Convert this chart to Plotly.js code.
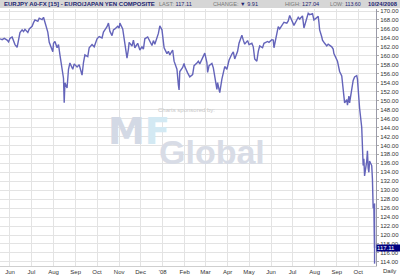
<!DOCTYPE html>
<html><head><meta charset="utf-8">
<script src="https://cdn.plot.ly/plotly-3.0.1.min.js"></script>
<style>html,body{margin:0;padding:0;background:#fff;}#c{width:400px;height:275px;}</style>
</head><body><div id="c"></div>
<script>
const dates = ["2007-05-18","2007-05-21","2007-05-24","2007-05-28","2007-05-30","2007-06-01","2007-06-04","2007-06-06","2007-06-08","2007-06-11","2007-06-13","2007-06-15","2007-06-18","2007-06-20","2007-06-22","2007-06-26","2007-06-28","2007-07-02","2007-07-04","2007-07-06","2007-07-10","2007-07-12","2007-07-16","2007-07-18","2007-07-20","2007-07-24","2007-07-26","2007-07-27","2007-07-31","2007-08-01","2007-08-03","2007-08-06","2007-08-08","2007-08-10","2007-08-14","2007-08-15","2007-08-16","2007-08-17","2007-08-20","2007-08-22","2007-08-24","2007-08-28","2007-08-30","2007-09-03","2007-09-06","2007-09-10","2007-09-12","2007-09-14","2007-09-18","2007-09-20","2007-09-24","2007-09-27","2007-10-01","2007-10-04","2007-10-08","2007-10-10","2007-10-12","2007-10-15","2007-10-17","2007-10-19","2007-10-22","2007-10-24","2007-10-26","2007-10-30","2007-11-01","2007-11-02","2007-11-06","2007-11-08","2007-11-12","2007-11-14","2007-11-15","2007-11-19","2007-11-21","2007-11-23","2007-11-27","2007-11-30","2007-12-03","2007-12-05","2007-12-07","2007-12-11","2007-12-13","2007-12-17","2007-12-19","2007-12-21","2007-12-26","2007-12-28","2007-12-31","2008-01-03","2008-01-07","2008-01-09","2008-01-11","2008-01-15","2008-01-17","2008-01-21","2008-01-23","2008-01-24","2008-01-25","2008-01-29","2008-01-31","2008-02-01","2008-02-05","2008-02-08","2008-02-12","2008-02-14","2008-02-18","2008-02-20","2008-02-22","2008-02-26","2008-02-29","2008-03-03","2008-03-04","2008-03-06","2008-03-10","2008-03-12","2008-03-14","2008-03-17","2008-03-18","2008-03-21","2008-03-24","2008-03-26","2008-03-28","2008-03-31","2008-04-03","2008-04-07","2008-04-09","2008-04-11","2008-04-15","2008-04-17","2008-04-21","2008-04-23","2008-04-25","2008-04-29","2008-05-01","2008-05-05","2008-05-07","2008-05-09","2008-05-12","2008-05-14","2008-05-16","2008-05-20","2008-05-22","2008-05-27","2008-05-29","2008-06-02","2008-06-04","2008-06-05","2008-06-09","2008-06-11","2008-06-13","2008-06-17","2008-06-19","2008-06-23","2008-06-25","2008-06-27","2008-07-01","2008-07-03","2008-07-07","2008-07-09","2008-07-11","2008-07-15","2008-07-17","2008-07-21","2008-07-23","2008-07-25","2008-07-29","2008-07-31","2008-08-04","2008-08-06","2008-08-07","2008-08-08","2008-08-11","2008-08-12","2008-08-15","2008-08-18","2008-08-20","2008-08-25","2008-08-27","2008-08-28","2008-09-02","2008-09-03","2008-09-05","2008-09-08","2008-09-10","2008-09-11","2008-09-12","2008-09-15","2008-09-16","2008-09-18","2008-09-19","2008-09-22","2008-09-24","2008-09-26","2008-09-29","2008-09-30","2008-10-01","2008-10-02","2008-10-03","2008-10-06","2008-10-07","2008-10-08","2008-10-09","2008-10-10","2008-10-13","2008-10-14","2008-10-15","2008-10-16","2008-10-17","2008-10-20","2008-10-21","2008-10-22","2008-10-23","2008-10-24"];
const closes = [163.8,163.6,163.9,163.5,163.1,163.9,164.2,163.4,162.5,161.9,163.8,165.2,165.8,165.4,165.9,165.2,166.0,166.6,167.4,168.0,167.7,168.4,168.1,168.6,167.5,165.3,163.0,162.5,160.9,162.8,163.2,161.8,162.5,160.2,156.5,155.0,149.5,154.0,152.8,157.0,158.4,157.0,158.2,157.5,158.0,155.7,158.5,160.2,159.8,161.8,162.5,162.0,163.8,164.3,164.0,165.3,165.8,166.5,167.3,165.5,164.5,165.8,166.0,166.6,166.2,167.3,166.0,163.5,159.5,161.5,163.0,162.2,163.5,161.8,162.8,161.3,162.0,161.5,163.8,164.2,163.6,162.3,163.4,162.6,165.0,166.7,165.8,161.8,160.5,161.0,160.2,161.3,158.8,157.0,153.5,152.4,156.5,157.4,158.3,157.6,156.2,155.3,155.8,157.8,158.4,158.8,158.2,159.5,160.6,158.5,156.3,157.8,158.3,157.3,155.5,152.5,154.0,151.8,154.8,156.5,157.6,157.0,159.0,160.4,160.9,159.3,161.0,162.8,164.6,163.5,162.6,163.4,162.5,162.8,162.0,159.3,158.8,161.0,162.2,161.8,162.8,163.2,163.0,163.6,163.5,161.8,165.5,166.5,166.0,167.0,167.5,167.3,167.8,169.0,167.5,166.8,168.0,168.6,168.2,168.9,166.2,168.8,169.5,169.2,169.4,168.0,168.5,168.8,167.5,165.8,164.2,163.5,162.8,162.2,162.6,162.0,161.5,160.5,158.8,158.0,156.5,155.5,153.2,151.0,149.5,150.2,149.0,151.0,149.5,153.2,154.5,155.3,155.6,154.8,152.0,150.5,148.3,144.0,140.5,135.5,137.0,133.2,136.5,138.8,135.0,134.0,136.5,135.5,132.5,126.0,127.0,117.11];
const lastDate = "2008-10-24";
const lastHigh = 127.04;
const lastLow = 113.60;
const lastClose = 117.11;
const lastChange = 9.91;
const monthTicks = ["2007-06-01","2007-07-01","2007-08-01","2007-09-01","2007-10-01","2007-11-01","2007-12-01","2008-01-01","2008-02-01","2008-03-01","2008-04-01","2008-05-01","2008-06-01","2008-07-01","2008-08-01","2008-09-01","2008-10-01"];
const monthLabels = ["Jun","Jul","Aug","Sep","Oct","Nov","Dec","'08","Feb","Mar","Apr","May","Jun","Jul","Aug","Sep","Oct"];

const F = "Liberation Sans, Arial, sans-serif";
const navy = "#1c2470";
const lineColor = "#6464ba";
const traces = [
  {x: dates, y: closes, type: "scatter", mode: "lines", line: {color: lineColor, width: 1.4}, hoverinfo: "skip"},
  {x: [lastDate, lastDate], y: [lastHigh, lastLow], type: "scatter", mode: "lines", line: {color: lineColor, width: 1.4}, hoverinfo: "skip"}
];
const hy = (266 - 4) / 257;
const P = px => px / 376;
const Q = py => (266 - py) / 257;
const layout = {
  width: 400, height: 275,
  margin: {l: 0, r: 24, t: 9, b: 9, pad: 0},
  paper_bgcolor: "#ffffff", plot_bgcolor: "#ffffff",
  showlegend: false,
  font: {family: F, size: 6, color: "#333"},
  xaxis: {type: "date", range: ["2007-05-18", "2008-10-26"], tickmode: "array", tickvals: monthTicks, ticktext: monthLabels,
    showgrid: true, gridcolor: "#e3e3e3", gridwidth: 1, ticks: "", showline: true, linecolor: "#cfcfcf", linewidth: 1,
    zeroline: false, tickfont: {family: F, size: 6, color: "#333"}, fixedrange: true},
  yaxis: {side: "right", range: [113.08, 170.45], tick0: 114, dtick: 2, tickformat: ".2f",
    showgrid: true, gridcolor: "#e3e3e3", gridwidth: 1, ticks: "outside", ticklen: 2, tickcolor: "#aaa",
    showline: true, linecolor: "#9a9aa8", linewidth: 1, zeroline: false,
    tickfont: {family: F, size: 6, color: "#333"}, fixedrange: true},
  shapes: [
    {type: "rect", xref: "paper", yref: "paper", x0: -0.01, x1: 1.07, y0: Q(8), y1: Q(-1), fillcolor: "#d6d6d6", line: {width: 0}, layer: "above"}
  ],
  annotations: [
    {xref: "paper", yref: "paper", x: P(2), y: hy, xanchor: "left", yanchor: "middle", showarrow: false,
      text: "<b>EURJPY A0-FX [15] - EURO/JAPAN YEN COMPOSITE</b>", font: {family: F, size: 6, color: navy}},
    {xref: "paper", yref: "paper", x: P(157), y: hy, xanchor: "left", yanchor: "middle", showarrow: false,
      text: "<span style='color:#777'>LAST:</span> " + lastClose.toFixed(2), font: {family: F, size: 5.6, color: navy}},
    {xref: "paper", yref: "paper", x: P(211), y: hy, xanchor: "left", yanchor: "middle", showarrow: false,
      text: "<span style='color:#777'>CHANGE:</span> ▼ " + lastChange.toFixed(2), font: {family: F, size: 5.6, color: navy}},
    {xref: "paper", yref: "paper", x: P(283), y: hy, xanchor: "left", yanchor: "middle", showarrow: false,
      text: "<span style='color:#777'>HIGH:</span> " + lastHigh.toFixed(2), font: {family: F, size: 5.6, color: navy}},
    {xref: "paper", yref: "paper", x: P(328), y: hy, xanchor: "left", yanchor: "middle", showarrow: false,
      text: "<span style='color:#777'>LOW:</span> " + lastLow.toFixed(2), font: {family: F, size: 5.3, color: navy}},
    {xref: "paper", yref: "paper", x: P(399.5), y: hy, xanchor: "right", yanchor: "middle", showarrow: false,
      text: "<b>10/24/2008</b>", font: {family: F, size: 5.8, color: navy}},
    {xref: "paper", yref: "paper", x: P(186), y: Q(110), xanchor: "center", yanchor: "middle", showarrow: false,
      text: "Charts sponsored by:", font: {family: F, size: 6, color: "#c8c8c8"}},
    {xref: "paper", yref: "paper", x: P(139), y: Q(131), xanchor: "center", yanchor: "middle", showarrow: false,
      text: "M<span style='color:#d3e9f3'>F</span>", font: {family: "DejaVu Sans, sans-serif", size: 37, weight: 900, color: "#d3d9e5"}},
    {xref: "paper", yref: "paper", x: P(212), y: Q(152), xanchor: "center", yanchor: "middle", showarrow: false,
      text: "Global", font: {family: F, size: 34, weight: "bold", color: "#d8dce6"}},
    {xref: "paper", yref: "y", x: 1.0, y: lastClose, xanchor: "left", yanchor: "middle", showarrow: false,
      text: lastClose.toFixed(2), bgcolor: "#000080", borderpad: 0, width: 23, align: "left",
      font: {family: F, size: 6, color: "#ffffff"}},
    {xref: "paper", yref: "paper", x: P(390), y: Q(270.5), xanchor: "center", yanchor: "middle", showarrow: false,
      text: "Daily", font: {family: F, size: 6, color: "#333"}}
  ]
};
Plotly.newPlot("c", traces, layout, {staticPlot: true, displayModeBar: false});
</script></body></html>
